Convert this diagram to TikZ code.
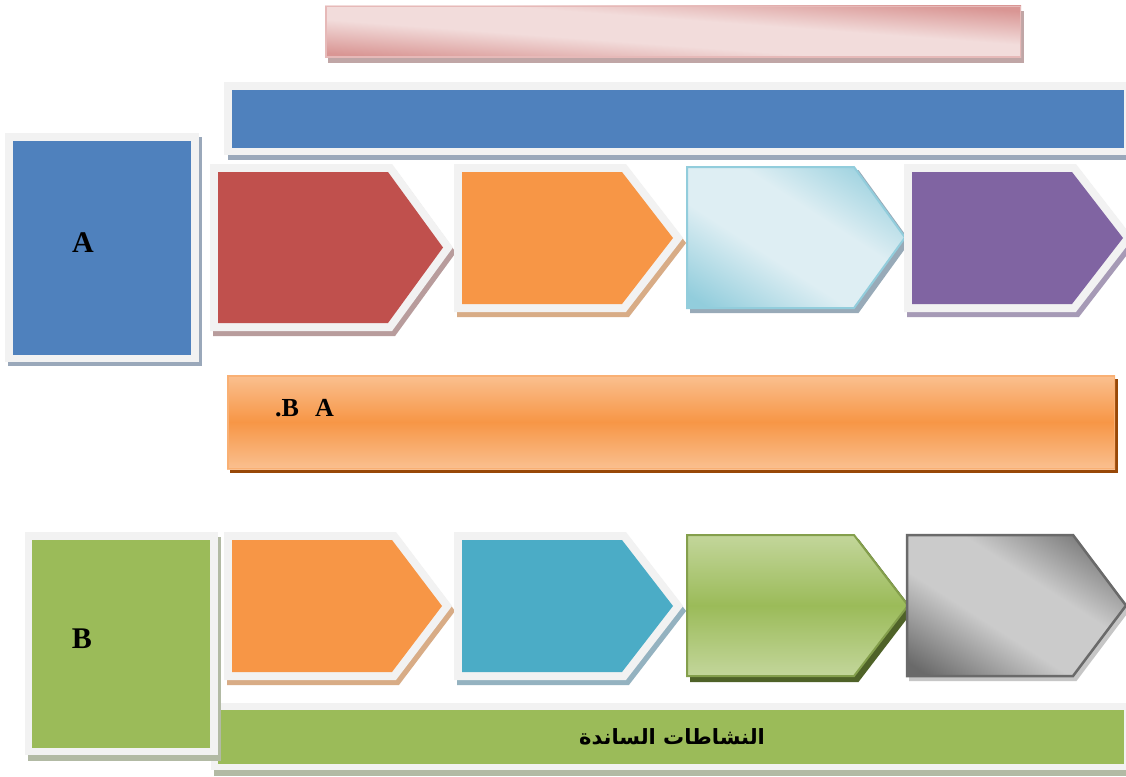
\documentclass[tikz,border=0pt]{standalone}
\usepackage{fontspec}
\setmainfont{Liberation Serif}
\newfontfamily\arabicfont[Script=Arabic]{DejaVu Sans}
\TeXXeTstate=1
\definecolor{frm}{HTML}{F2F2F2}
\definecolor{blueA}{HTML}{4F81BD}
\definecolor{redC}{HTML}{C0504D}
\definecolor{orangeC}{HTML}{F79646}
\definecolor{orangeL}{HTML}{FAC090}
\definecolor{purpleC}{HTML}{8064A2}
\definecolor{tealC}{HTML}{4BACC6}
\definecolor{greenC}{HTML}{9BBB59}
\definecolor{greenL}{HTML}{C3D69B}
\definecolor{greenS}{HTML}{4F6228}
\definecolor{pinkD}{HTML}{D99694}
\definecolor{pinkL}{HTML}{F2DCDB}
\definecolor{pinkB}{HTML}{E6B9B8}
\definecolor{lbD}{HTML}{92CDDC}
\definecolor{lbL}{HTML}{DEEEF3}
\definecolor{grD}{HTML}{6A6A6A}
\definecolor{grL}{HTML}{CBCBCB}
\definecolor{brownS}{HTML}{984807}
\definecolor{shBlue}{HTML}{9AA8BA}
\definecolor{shRed}{HTML}{B89C9C}
\definecolor{shOrange}{HTML}{D8AC86}
\definecolor{shPurple}{HTML}{A69AB6}
\definecolor{shTeal}{HTML}{94B2C0}
\definecolor{shLB}{HTML}{98AAB8}
\definecolor{shGrey}{HTML}{C6C6C6}
\definecolor{shGreen}{HTML}{B2BAA4}
\definecolor{shPink}{HTML}{C0A6A6}
\pgfdeclarehorizontalshading{pinkdiag}{100bp}{color(0bp)=(pinkD); color(18bp)=(pinkD); color(41bp)=(pinkL); color(59bp)=(pinkL); color(82bp)=(pinkD); color(100bp)=(pinkD)}
\pgfdeclarehorizontalshading{lbdiag}{100bp}{color(0bp)=(lbD); color(18bp)=(lbD); color(41bp)=(lbL); color(59bp)=(lbL); color(82bp)=(lbD); color(100bp)=(lbD)}
\pgfdeclarehorizontalshading{grdiag}{100bp}{color(0bp)=(grD); color(18bp)=(grD); color(41bp)=(grL); color(59bp)=(grL); color(82bp)=(grD); color(100bp)=(grD)}
\tikzset{
  chev/.style n args={5}{insert path={(#1,#2) -- (#3,#2) -- (#4,{(#2+#5)/2}) -- (#3,#5) -- (#1,#5) -- cycle}},
  frmline/.style={draw=frm, fill=frm, line width=16pt, line join=miter},
  shdline/.style={draw=#1, fill=#1, line width=16pt, line join=miter},
  lbl/.style={font=\bfseries\fontsize{30}{33}\selectfont, text=black, inner sep=0pt},
}
\begin{document}
\begin{tikzpicture}[x=1pt,y=-1pt]
\useasboundingbox (0,0) rectangle (1126,776);
\fill[white] (0,0) rectangle (1126,776);

% ---------- top pink bar ----------
\fill[shPink] (328,11) rectangle (1024,63);
\begin{scope}[transform canvas={shift={(325,6)}, xscale=6.96, yscale=0.52}]
  \shade[shading=pinkdiag, shading angle=45] (0,0) rectangle (100,100);
\end{scope}
\draw[pinkB, line width=1.5pt] (325.75,6.75) rectangle (1020.25,57.25);

% ---------- blue bar ----------
\fill[shBlue] (228,86) rectangle (1130,160);
\fill[frm] (224,82) rectangle (1130,155);
\fill[blueA] (232,90) rectangle (1124,148);

% ---------- box A ----------
\fill[shBlue] (8,137) rectangle (202,366);
\fill[frm] (5,133) rectangle (199,362);
\fill[blueA] (13,141) rectangle (191,355);
\node[lbl] (la) at (83,243) {A};

% ---------- row 1 chevrons ----------
% red
\path[shdline=shRed, shift={(3,5)}, chev={218}{172}{388}{443}{323}];
\path[frmline, chev={218}{172}{388}{443}{323}];
\fill[redC, chev={218}{172}{388}{443}{323}];
% orange
\path[shdline=shOrange, shift={(3,5)}, chev={462}{172}{622}{673}{304}];
\path[frmline, chev={462}{172}{622}{673}{304}];
\fill[orangeC, chev={462}{172}{622}{673}{304}];
% light blue
\path[fill=shLB, draw=shLB, line width=2pt, shift={(4,4)}, chev={687}{167}{854}{905}{308}];
\begin{scope}[transform canvas={shift={(687,167)}, xscale=2.18, yscale=1.41}]
  \shade[shading=lbdiag, shading angle=45] (0,0) -- (76.6,0) -- (100,50) -- (76.6,100) -- (0,100) -- cycle;
\end{scope}
\draw[lbD, line width=2pt, line join=miter, chev={687}{167}{854}{905}{308}];
% purple
\path[shdline=shPurple, shift={(3,5)}, chev={912}{172}{1072}{1123}{304}];
\path[frmline, chev={912}{172}{1072}{1123}{304}];
\fill[purpleC, chev={912}{172}{1072}{1123}{304}];

% ---------- orange bar ----------
\fill[brownS] (230,379) rectangle (1118,473);
\shade[top color=orangeL, bottom color=orangeL, middle color=orangeC] (227,375) rectangle (1115,469);
\draw[orangeC!75!white, line width=1.5pt] (227.75,375.75) rectangle (1114.25,468.25);
\node[font=\bfseries\fontsize{26}{30}\selectfont, inner sep=0pt, anchor=base west] (lba) at (275,416) {.B\hspace{16pt}A};

% ---------- green bottom bar ----------
\fill[shGreen] (214,708) rectangle (1130,776);
\fill[frm] (211,703) rectangle (1130,770);
\fill[greenC] (218,710) rectangle (1124,764);
\node[font=\arabicfont\bfseries\fontsize{21}{24}\selectfont, inner sep=0pt] (lar) at (672,737) {\beginR النشاطات الساندة\endR};

% ---------- box B ----------
\fill[shGreen] (28,537) rectangle (221,761);
\fill[frm] (25,532) rectangle (218,755);
\fill[greenC] (32,540) rectangle (210,748);
\node[lbl] (lb) at (82,639) {B};

% ---------- row 2 chevrons ----------
% orange
\path[shdline=shOrange, shift={(3,5)}, chev={232}{540}{392}{442}{672}];
\path[frmline, chev={232}{540}{392}{442}{672}];
\fill[orangeC, chev={232}{540}{392}{442}{672}];
% teal
\path[shdline=shTeal, shift={(3,5)}, chev={462}{540}{622}{673}{672}];
\path[frmline, chev={462}{540}{622}{673}{672}];
\fill[tealC, chev={462}{540}{622}{673}{672}];
% green gradient
\path[fill=greenS, draw=greenS, line width=2pt, shift={(4,5)}, chev={687}{535}{854}{908}{676}];
\shade[top color=greenL, bottom color=greenL, middle color=greenC, chev={687}{535}{854}{908}{676}];
\draw[greenC!85!black, line width=2pt, line join=miter, chev={687}{535}{854}{908}{676}];
% grey
\path[fill=shGrey, draw=shGrey, line width=2pt, shift={(3,4)}, chev={907}{535}{1073}{1126}{676}];
\begin{scope}[transform canvas={shift={(907,535)}, xscale=2.19, yscale=1.41}]
  \shade[shading=grdiag, shading angle=45] (0,0) -- (75.8,0) -- (100,50) -- (75.8,100) -- (0,100) -- cycle;
\end{scope}
\draw[grD, line width=2.5pt, line join=miter, chev={907}{535}{1073}{1126}{676}];
\end{tikzpicture}
\end{document}
